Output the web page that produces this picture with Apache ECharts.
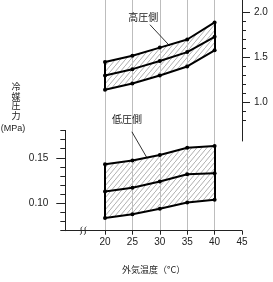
<!DOCTYPE html>
<html>
<head>
<meta charset="utf-8">
<script src="https://cdn.jsdelivr.net/npm/echarts@6/dist/echarts.min.js"></script>
<style>
html, body { margin: 0; padding: 0; background: #fff; }
#main { width: 273px; height: 282px; }
</style>
</head>
<body>
<div id="main"></div>
<script>
// 外気温度
var temps = [20, 25, 30, 35, 40];
// 高圧側 (MPa)
var highUpper = [1.45, 1.52, 1.61, 1.70, 1.89];
var highMid   = [1.30, 1.37, 1.46, 1.56, 1.73];
var highLower = [1.14, 1.21, 1.30, 1.40, 1.58];
// 低圧側 (MPa)
var lowUpper = [0.143, 0.147, 0.153, 0.161, 0.163];
var lowMid   = [0.113, 0.117, 0.124, 0.132, 0.133];
var lowLower = [0.084, 0.088, 0.094, 0.101, 0.104];
// 目盛り
var xTicks = [20, 25, 30, 35, 40, 45];
var highMajor = [1.0, 1.5, 2.0];
var highMinor = [0.8, 0.9, 1.0, 1.1, 1.2, 1.3, 1.4, 1.5, 1.6, 1.7, 1.8, 1.9, 2.0];
var lowMajor = [0.10, 0.15];
var lowMinor = [0.07, 0.08, 0.09, 0.10, 0.11, 0.12, 0.13, 0.14, 0.15, 0.16, 0.17, 0.18];

var numFont = 'Liberation Sans';
var jpFont = 'Noto Sans CJK JP';
var ink = '#222';

function pts(ys) {
    return temps.map(function (t, i) { return [t, ys[i]]; });
}
// 斜線のハッチング
function hatch() {
    var c = document.createElement('canvas');
    c.width = 5; c.height = 6;
    var g = c.getContext('2d');
    g.fillStyle = '#fff';
    g.fillRect(0, 0, 5, 6);
    g.strokeStyle = '#8c8c8c';
    g.lineWidth = 0.7;
    g.beginPath();
    g.moveTo(-1, 7.2);
    g.lineTo(6, -1.2);
    g.stroke();
    return c;
}
var hatchFill = { image: hatch(), repeat: 'repeat' };

// 帯の塗り（上側＝斜線、下側＝白で覆う）
function areaSeries(data, xi, yi, fill) {
    return {
        type: 'line', xAxisIndex: xi, yAxisIndex: yi, data: data,
        symbol: 'none', silent: true, z: 1,
        lineStyle: { width: 0, opacity: 0 },
        areaStyle: { color: fill, opacity: 1, origin: 'start' }
    };
}
function lineSeries(data, xi, yi, extra) {
    var s = {
        type: 'line', xAxisIndex: xi, yAxisIndex: yi, data: data,
        symbol: 'circle', symbolSize: 4,
        itemStyle: { color: '#000' },
        lineStyle: { color: '#000', width: 2 },
        silent: true, z: 5
    };
    for (var k in extra) s[k] = extra[k];
    return s;
}
function edgeLines(up, lo) {
    var n = temps.length - 1;
    return [
        [{ coord: [temps[0], lo[0]] }, { coord: [temps[0], up[0]] }],
        [{ coord: [temps[n], lo[n]] }, { coord: [temps[n], up[n]] }]
    ];
}
function marks(edge, leader, text, at, dy) {
    return {
        markLine: {
            symbol: ['none', 'none'], silent: true, label: { show: false },
            lineStyle: { color: '#000', width: 2, type: 'solid' },
            data: edge.concat([leader.map(function (c) {
                return { coord: c, lineStyle: { width: 0.8, color: '#000' } };
            })])
        },
        markPoint: {
            symbolSize: 0, silent: true,
            label: { show: true, formatter: text, offset: [0, dy], color: ink, fontSize: 10, fontFamily: jpFont },
            data: [{ coord: at }]
        }
    };
}

var myChart = echarts.init(document.getElementById('main'));

var option = {
    animation: false,
    grid: [
        { left: 105, right: 31, top: 0, bottom: 51.3 },       // 背景の縦線
        { left: 105, right: 31, top: 0, height: 141 },         // 高圧側
        { left: 65.3, right: 31, top: 130.4, bottom: 51.3 }    // 低圧側
    ],
    xAxis: [
        {
            gridIndex: 0, type: 'value', min: 20, max: 45, interval: 5, z: 3,
            axisLine: { show: false }, axisTick: { show: false }, axisLabel: { show: false },
            splitLine: { show: true, lineStyle: { color: ['#bdbdbd', '#bdbdbd', '#bdbdbd', '#bdbdbd', '#bdbdbd', 'rgba(0,0,0,0)'], width: 1 } }
        },
        { gridIndex: 1, type: 'value', min: 20, max: 45, show: false },
        {
            gridIndex: 2, type: 'value', min: 12.75, max: 45, z: 4,
            axisLine: { show: true, lineStyle: { color: ink, width: 1 } },
            axisTick: { show: true, customValues: xTicks, length: 4, lineStyle: { color: ink } },
            axisLabel: { show: true, customValues: xTicks, margin: 7, color: ink, fontSize: 10, fontFamily: numFont },
            splitLine: { show: false },
            name: '外気温度（°C）',
            nameLocation: 'middle',
            nameGap: 34,
            nameTextStyle: { color: ink, fontSize: 9, fontFamily: jpFont }
        }
    ],
    yAxis: [
        { gridIndex: 0, type: 'value', min: 0, max: 1, show: false },
        {
            gridIndex: 1, type: 'value', position: 'right', min: 0.57, max: 2.14, z: 4,
            axisLine: { show: true, lineStyle: { color: ink, width: 1 } },
            axisTick: { show: true, customValues: highMajor, length: 8, lineStyle: { color: ink } },
            axisLabel: { show: true, customValues: highMajor, margin: 12, color: ink, fontSize: 10, fontFamily: numFont,
                formatter: function (v) { return v.toFixed(1); } },
            splitLine: { show: false }
        },
        {
            gridIndex: 1, type: 'value', position: 'right', min: 0.57, max: 2.14, z: 4,
            axisLine: { show: false },
            axisTick: { show: true, customValues: highMinor, length: 4, lineStyle: { color: ink } },
            axisLabel: { show: false },
            splitLine: { show: false }
        },
        {
            gridIndex: 2, type: 'value', position: 'left', min: 0.07, max: 0.18, z: 4,
            axisLine: { show: true, lineStyle: { color: ink, width: 1 } },
            axisTick: { show: true, customValues: lowMajor, length: 9, lineStyle: { color: ink } },
            axisLabel: { show: true, customValues: lowMajor, margin: 17, color: ink, fontSize: 10, fontFamily: numFont,
                formatter: function (v) { return v.toFixed(2); } },
            splitLine: { show: false }
        },
        {
            gridIndex: 2, type: 'value', position: 'left', min: 0.07, max: 0.18, z: 4,
            axisLine: { show: false },
            axisTick: { show: true, customValues: lowMinor, length: 5, lineStyle: { color: ink } },
            axisLabel: { show: false },
            splitLine: { show: false }
        }
    ],
    series: [
        // 高圧側
        areaSeries(pts(highUpper), 1, 1, hatchFill),
        areaSeries(pts(highLower), 1, 1, '#fff'),
        lineSeries(pts(highUpper), 1, 1, marks(edgeLines(highUpper, highLower),
            [[28.2, 1.865], [31.8, 1.63]], '高圧側', [27.0, 1.945], 0)),
        lineSeries(pts(highMid), 1, 1, {}),
        lineSeries(pts(highLower), 1, 1, {}),
        // 低圧側
        areaSeries(pts(lowUpper), 2, 3, hatchFill),
        areaSeries(pts(lowLower), 2, 3, '#fff'),
        lineSeries(pts(lowUpper), 2, 3, marks(edgeLines(lowUpper, lowLower),
            [[24.9, 0.1785], [27.6, 0.1505]], '低圧側', [24.0, 0.18], -11.4)),
        lineSeries(pts(lowMid), 2, 3, {}),
        lineSeries(pts(lowLower), 2, 3, {})
    ]
};
myChart.setOption(option);

// 縦軸名と軸の省略記号
var brk = myChart.convertToPixel({ gridIndex: 2 }, [16.2, 0.07]);
myChart.setOption({
    graphic: [
        {
            type: 'text', x: 16, y: 82, silent: true,
            style: { text: '冷\n媒\n圧\n力', textAlign: 'center', textVerticalAlign: 'top',
                font: '9px "Noto Sans CJK JP"', lineHeight: 9.5, fill: ink }
        },
        {
            type: 'text', x: 13, y: 124, silent: true,
            style: { text: '(MPa)', textAlign: 'center', textVerticalAlign: 'top',
                font: '9px "Liberation Sans"', fill: ink }
        },
        {
            type: 'group', x: brk[0], y: brk[1], silent: true, z: 10,
            children: [
                { type: 'rect', shape: { x: -2.5, y: -1.5, width: 3, height: 3 }, style: { fill: '#fff' } },
                { type: 'bezierCurve', shape: { x1: -4, y1: 4, x2: -2, y2: -4, cpx1: -1, cpy1: 2, cpx2: -5, cpy2: -2 },
                  style: { fill: 'none', stroke: ink, lineWidth: 1 } },
                { type: 'bezierCurve', shape: { x1: 0, y1: 4, x2: 2, y2: -4, cpx1: 3, cpy1: 2, cpx2: -1, cpy2: -2 },
                  style: { fill: 'none', stroke: ink, lineWidth: 1 } }
            ]
        }
    ]
});
</script>
</body>
</html>
